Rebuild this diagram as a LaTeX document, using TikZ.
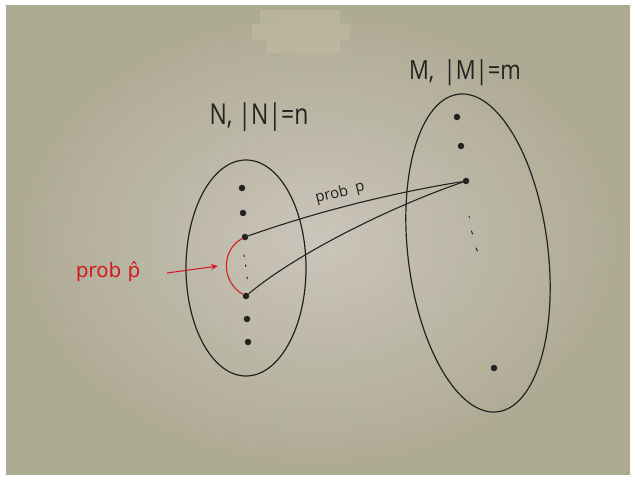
\documentclass[tikz,border=0pt]{standalone}
\usepackage{graphicx}
\usepackage{fontspec}
\setmainfont{Open Sans}
\newfontfamily\dejavu{DejaVu Sans}
\usetikzlibrary{shapes.geometric,arrows.meta}
\definecolor{ink}{HTML}{232220}
\definecolor{redink}{HTML}{D21E23}
\definecolor{paperin}{HTML}{CAC5BA}
\definecolor{paperout}{HTML}{ADAA93}
\definecolor{tape}{HTML}{C8C3A2}
\begin{document}
\begin{tikzpicture}[x=1pt,y=-1pt,
  dot/.style={circle,fill=ink,inner sep=0pt,minimum size=6.5pt},
  set/.style={draw=ink,line width=1.2pt,ellipse,inner sep=0pt},
  link/.style={draw=ink,line width=1.1pt},
  tick/.style={draw=ink,line width=1pt,line cap=round},
  lbl/.style={text=ink,inner sep=0pt},
]
\useasboundingbox (0,0) rectangle (634,477);
\fill[white] (0,0) rectangle (634,477);
\shade[inner color=paperin,outer color=paperout] (6,5) rectangle (630,474);
% tape remains
\fill[tape,opacity=0.4] (260,10) rectangle (340,24);
\fill[tape,opacity=0.4] (252,24) rectangle (350,40);
\fill[tape,opacity=0.4] (266,40) rectangle (340,53);

% sets
\node[set,minimum width=120pt,minimum height=216pt] (N) at (246,268) {};
\node[set,minimum width=140pt,minimum height=320pt,rotate=7] (M) at (478,253) {};

% labels
\node[lbl,font=\fontsize{23}{28}\selectfont] (Nlab) at (259,117) {\scalebox{1}[1.25]{N, |N|=n}};
\node[lbl,font=\fontsize{22}{28}\selectfont] (Mlab) at (465,73) {\scalebox{1}[1.2]{M,\, |M|=m}};

% dots of N
\node[dot] (n1) at (242,188) {};
\node[dot] (n2) at (243,213) {};
\node[dot] (n3) at (245,237) {};
\node[dot] (n4) at (246,296) {};
\node[dot] (n5) at (247,319) {};
\node[dot] (n6) at (248,342) {};
\draw[tick] (244,255) -- (244.3,256.5);
\draw[tick] (245.5,265) -- (245.8,266.5);
\draw[tick] (247,277) -- (247.3,278.5);

% dots of M
\node[dot] (m1) at (457,117) {};
\node[dot] (m2) at (461,146) {};
\node[dot] (m3) at (466,181) {};
\node[dot] (m4) at (494,368) {};
\draw[tick] (469,216) -- (469.3,217.5);
\draw[tick] (471.5,231) -- (472.5,234);
\draw[tick] (476,248) -- (477.5,251);

% links
\draw[link] (n3) .. controls (319,211) and (392,193) .. (m3);
\draw[link] (n4) .. controls (296,254) and (390,207) .. (m3);
\node[lbl,font=\fontsize{15}{18}\selectfont,rotate=14] (plab) at (340,193) {prob\hspace{0.5em}p};

% red part
\draw[redink,line width=1.1pt] (n3) .. controls (221,250) and (221,282) .. (n4);
\coordinate (atail) at (167,273);
\coordinate (ahead) at (218,266);
\draw[redink,line width=1.1pt,-{Stealth[length=7pt,width=6pt]}] (atail) -- (ahead);
\node[lbl,text=redink,font=\dejavu\fontsize{20}{24}\selectfont] (phat) at (108,272) {prob p̂};
\end{tikzpicture}
\end{document}
